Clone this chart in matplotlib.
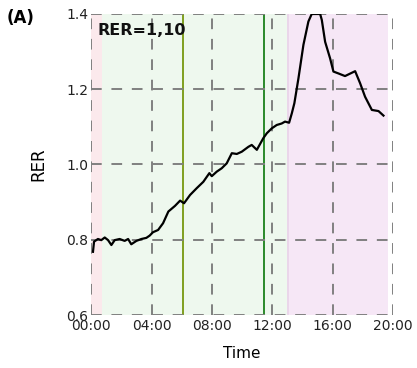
import matplotlib
matplotlib.use("Agg")
import matplotlib.pyplot as plt

hours = [0.11, 0.18, 0.44, 0.66, 0.89, 1.11, 1.33, 1.55, 1.88, 2.21, 2.44, 2.65, 2.99, 3.32,
         3.65, 3.87, 4.09, 4.43, 4.76, 5.11, 5.55, 5.89, 6.15, 6.55, 6.99, 7.43, 7.83, 7.99,
         8.32, 8.65, 8.98, 9.32, 9.65, 9.98, 10.42, 10.64, 10.98, 11.41, 11.64, 11.97, 12.3,
         12.63, 12.85, 13.12, 13.3, 13.47, 13.74, 14.07, 14.4, 14.62, 15.18, 15.29, 15.51,
         15.84, 16.06, 16.39, 16.83, 17.5, 17.83, 18.16, 18.61, 19.05, 19.38]
rer = [0.768, 0.795, 0.802, 0.799, 0.806, 0.799, 0.786, 0.799, 0.802, 0.797, 0.802, 0.788,
       0.797, 0.802, 0.805, 0.811, 0.820, 0.826, 0.844, 0.875, 0.890, 0.904, 0.897, 0.919,
       0.937, 0.954, 0.977, 0.969, 0.981, 0.990, 1.003, 1.030, 1.028, 1.034, 1.047, 1.052,
       1.039, 1.070, 1.083, 1.096, 1.105, 1.109, 1.114, 1.111, 1.136, 1.163, 1.229, 1.318,
       1.380, 1.400, 1.400, 1.384, 1.326, 1.282, 1.247, 1.242, 1.235, 1.248, 1.216, 1.180,
       1.145, 1.142, 1.130]

phase_bounds = [(0.0, 0.7), (0.7, 13.0), (13.0, 19.7)]
phase_colors = ["#fbe9ec", "#eef8ee", "#f6e7f6"]
vlines = [6.1, 11.46]
vline_colors = ["#7f9f1f", "#2a8a2a"]
xticks = [0, 4, 8, 12, 16, 20]
xticklabels = ["00:00", "04:00", "08:00", "12:00", "16:00", "20:00"]
yticks = [0.6, 0.8, 1.0, 1.2, 1.4]

fig = plt.figure(figsize=(4.17, 3.68), dpi=100)
ax = fig.add_axes([0.219, 0.144, 0.723, 0.818])

for (a, b), c in zip(phase_bounds, phase_colors):
    ax.axvspan(a, b, color=c, zorder=0, lw=0)
ax.axvspan(13.0, 13.1, color="#ead6ea", zorder=0, lw=0)

for xv, c in zip(vlines, vline_colors):
    ax.axvline(xv, color=c, lw=1.4, zorder=2)

ax.plot(hours, rer, color="black", lw=1.6, zorder=3)

ax.set_xlim(0, 20)
ax.set_ylim(0.6, 1.4)
ax.set_xticks(xticks)
ax.set_xticklabels(xticklabels)
ax.set_yticks(yticks)
ax.set_yticklabels([f"{v:.1f}" for v in yticks])
ax.tick_params(length=0, labelsize=10, pad=2, colors="#222222")
ax.tick_params(axis="x", pad=3)
ax.grid(True, color="#808080", ls=(0, (5.5, 5)), lw=1.4, zorder=1)
ax.set_axisbelow(False)
for s in ax.spines.values():
    s.set_visible(False)

ax.set_xlabel("Time", fontsize=11, labelpad=9)
ax.set_ylabel("RER", fontsize=12, labelpad=14)
ax.text(0.02, 0.97, "RER=1,10", transform=ax.transAxes, fontsize=11.5,
        fontweight="bold", va="top", ha="left", color="#111111", zorder=4)
fig.text(0.015, 0.975, "(A)", fontsize=12, fontweight="bold", va="top", ha="left")

fig.savefig("out.png", dpi=100)
